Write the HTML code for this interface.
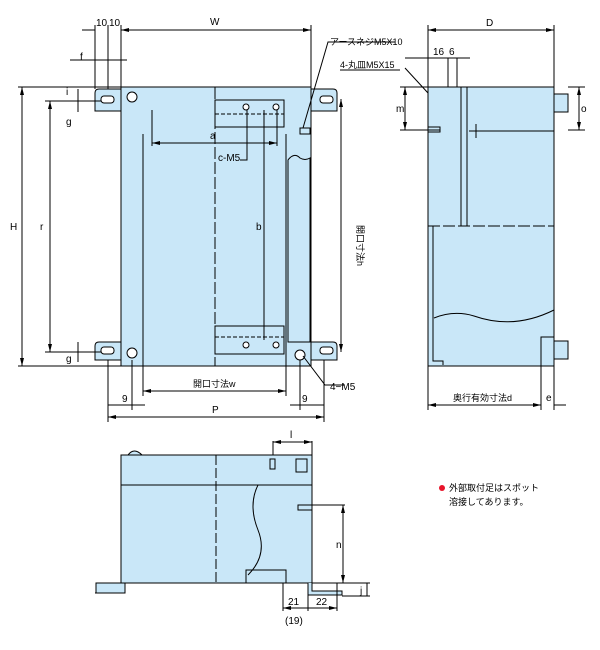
<!DOCTYPE html>
<html><head><meta charset="utf-8"><style>
html,body{margin:0;padding:0;background:#fff;}
svg{display:block;font-family:"Liberation Sans","Noto Sans CJK JP",sans-serif;}
</style></head><body>
<svg width="600" height="650" viewBox="0 0 600 650" xmlns="http://www.w3.org/2000/svg">
<defs>
<marker id="a" viewBox="0 0 8 6" refX="8" refY="3" markerWidth="8" markerHeight="6" orient="auto-start-reverse"><path d="M0,1 L8,3 L0,5 z" fill="#000"/></marker>
</defs>
<g stroke="#000" stroke-width="1" fill="#c9e7f8">
<path d="M95,93 q0,-4 4,-4 h22 v22 h-26 z"/>
<path d="M311,89 h22 q4,0 4,4 v18 h-26 z"/>
<path d="M95,346 q0,-4 4,-4 h22 v18 h-26 z"/>
<path d="M311,342 h22 q4,0 4,4 v14 h-26 z"/>
<rect x="121" y="87" width="190" height="279"/>
<rect x="215" y="100" width="69" height="27" fill="none"/>
<rect x="215" y="326" width="69" height="28" fill="none"/>
<path d="M288,160 q6,-8 12,-2 q5,3 10,0 v184 h-22 z" fill="none"/>
<rect x="300" y="128" width="10" height="6"/>
<rect x="101" y="96" width="13" height="7" rx="3" fill="#fff"/>
<rect x="320" y="96" width="13" height="7" rx="3" fill="#fff"/>
<rect x="101" y="347" width="13" height="7" rx="3" fill="#fff"/>
<rect x="320" y="347" width="13" height="7" rx="3" fill="#fff"/>
<circle cx="132" cy="97" r="5" fill="#fff"/>
<circle cx="132" cy="353" r="5" fill="#fff"/>
<circle cx="300" cy="355" r="5" fill="#fff"/>
<circle cx="246" cy="107" r="3" fill="#fff"/><circle cx="276" cy="107" r="3" fill="#fff"/>
<circle cx="246" cy="345" r="3" fill="#fff"/><circle cx="276" cy="345" r="3" fill="#fff"/>
<rect x="428" y="87" width="126" height="279"/>
<rect x="554" y="94" width="14" height="18"/>
<rect x="554" y="341" width="14" height="18"/>
<rect x="428" y="127" width="12" height="5"/>
<path d="M433,226 v135 h10 v4" fill="none"/>
<path d="M434,318 q20,-8 40,-2 q40,14 80,-6" fill="none"/>
<rect x="541" y="337" width="13" height="29"/>
<rect x="121" y="455" width="191" height="30"/>
<path d="M128,455 q6,-8 14,0 z"/>
<rect x="121" y="485" width="191" height="98"/>
<rect x="296" y="459" width="11" height="13"/>
<rect x="270" y="459" width="5" height="10"/>
<rect x="298" y="505" width="14" height="5"/>
<path d="M95,593 h30 v-10 h-29 v10 M312,583 v8 h30 v4 h-34 v-12" fill="#c9e7f8"/>
<rect x="246" y="570" width="40" height="13" fill="none"/>
</g>
<g stroke="#000" stroke-width="1" fill="none">
<path d="M215,87 V366" stroke-dasharray="12,3"/>
<path d="M461,87 V226 M467,87 V226" />
<path d="M428,226 H554" stroke-dasharray="12,3"/>
<path d="M216,455 V583" stroke-dasharray="10,3"/>
<path d="M258,485 q-10,20 0,45 q10,25 -10,45"/>
<path d="M215,114 H284 M215,337 H284" stroke-dasharray="4,2"/>
<path d="M474,131 H554 M476,124 v14 M469,131 h14"/>
<path d="M121,30 H311" marker-start="url(#a)" marker-end="url(#a)"/>
<path d="M121,87 V25 M311,87 V25 M95,89 V25 M108,89 V25 M82,30 H95" />
<path d="M22,87 V366" marker-start="url(#a)" marker-end="url(#a)"/>
<path d="M18,87 H121 M18,366 H121 M45,101 H101 M45,352 H101"/>
<path d="M50,101 V352" marker-start="url(#a)" marker-end="url(#a)"/>
<path d="M78,89 V101 M78,96 v16 M78,342 V362 M70,60 H127"/>
<path d="M341,99 V352" marker-start="url(#a)" marker-end="url(#a)"/>
<path d="M152,110 V146 M277,110 V146"/>
<path d="M152,143 H277" marker-start="url(#a)" marker-end="url(#a)"/>
<path d="M264,110 V340 M247,110 V160 H240"/>
<path d="M143,134 V396 M286,134 V396"/>
<path d="M143,391 H286" marker-start="url(#a)" marker-end="url(#a)"/>
<path d="M108,360 V422 M324,360 V422"/>
<path d="M108,417 H324" marker-start="url(#a)" marker-end="url(#a)"/>
<path d="M132,360 V410 M300,360 V410 M108,405 H145 M290,405 H324"/>
<path d="M303,356 L325,385 H345"/>
<path d="M303,128 L328,42 H395"/>
<path d="M340,70 H400"/>
<path d="M428,30 H554" marker-start="url(#a)" marker-end="url(#a)"/>
<path d="M428,87 V25 M554,87 V25 M405,58 H470 M448,58 V87 M457,58 V87"/>
<path d="M405,87 V130" marker-start="url(#a)" marker-end="url(#a)"/>
<path d="M400,87 H428 M400,130 H440"/>
<path d="M579,87 V130" marker-start="url(#a)" marker-end="url(#a)"/>
<path d="M568,87 H585 M568,130 H585"/>
<path d="M428,366 V410 M541,366 V410 M554,366 V410 M554,405 H566"/>
<path d="M428,405 H541" marker-start="url(#a)" marker-end="url(#a)"/>
<path d="M428,93 L405,68"/>
<path d="M273,441 V455 M312,441 V485"/>
<path d="M273,442 H312" marker-start="url(#a)" marker-end="url(#a)"/>
<path d="M312,505 H345 M370,583 H312 M370,596 H342 M367,583 V596"/>
<path d="M343,505 V583" marker-start="url(#a)" marker-end="url(#a)"/>
<path d="M283,583 V611 M308,583 V611 M337,583 V611"/>
<path d="M283,608 H308 M308,608 H337" marker-start="url(#a)" marker-end="url(#a)"/>
</g>
<g font-size="10" fill="#000">
<text x="96" y="26">10</text><text x="109" y="26">10</text>
<text x="210" y="25">W</text>
<text x="80" y="60">f</text>
<text x="66" y="95">i</text>
<text x="66" y="125">g</text>
<text x="66" y="362">g</text>
<text x="10" y="230">H</text>
<text x="40" y="230">r</text>
<text x="210" y="139">a</text>
<text x="218" y="161">c-M5</text>
<text x="256" y="230">b</text>
<text x="330" y="208" transform="rotate(90 335 230)" font-size="9">開口寸法h</text>
<text x="193" y="387" font-size="9">開口寸法w</text>
<text x="122" y="402">9</text>
<text x="302" y="402">9</text>
<text x="212" y="413">P</text>
<text x="330" y="390">4−M5</text>
<text x="330" y="45" font-size="9">アースネジM5X10</text>
<text x="340" y="68" font-size="9">4-丸皿M5X15</text>
<text x="486" y="26">D</text>
<text x="433" y="55">16</text><text x="449" y="55">6</text>
<text x="396" y="112">m</text>
<text x="581" y="112">o</text>
<text x="453" y="401" font-size="9">奥行有効寸法d</text>
<text x="546" y="401">e</text>
<text x="290" y="438">l</text>
<text x="336" y="548">n</text>
<text x="360" y="594">j</text>
<text x="288" y="605">21</text>
<text x="316" y="605">22</text>
<text x="285" y="624">(19)</text>
<circle cx="442" cy="488" r="3" fill="#e8142a"/>
<text x="449" y="491" font-size="9">外部取付足はスポット</text>
<text x="449" y="505" font-size="9">溶接してあります。</text>
</g>
</svg>
</body></html>
